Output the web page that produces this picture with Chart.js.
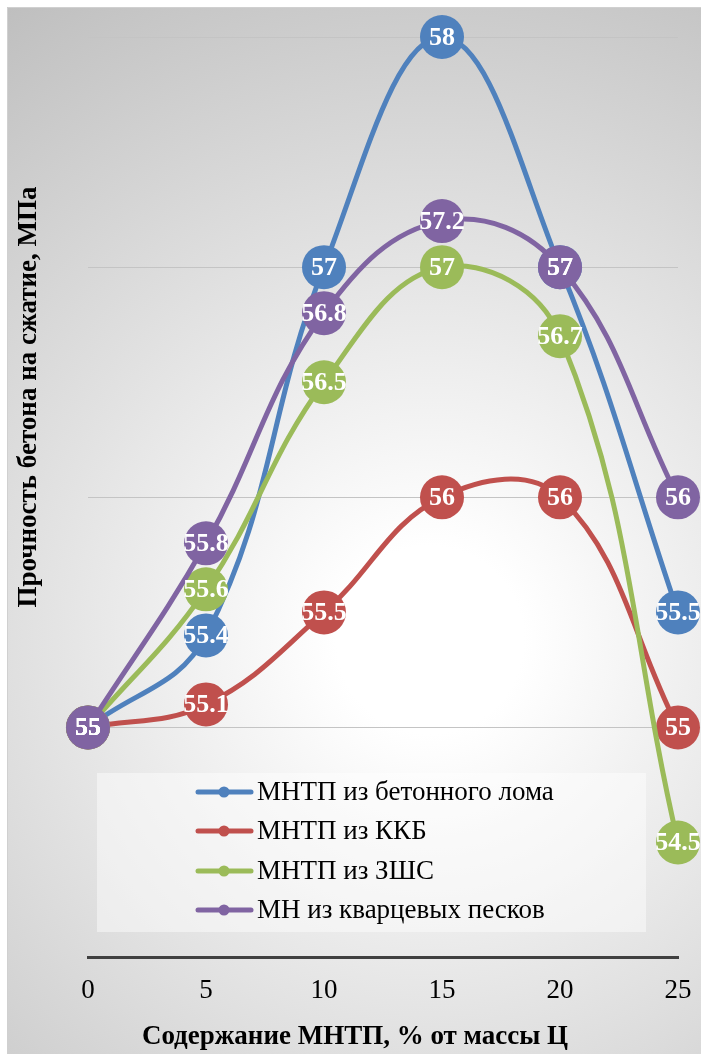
<!DOCTYPE html>
<html lang="ru">
<head>
<meta charset="utf-8">
<title>Прочность бетона</title>
<script src="https://cdn.jsdelivr.net/npm/chart.js@4"></script>
<style>
    html, body { margin: 0; padding: 0; background: #fff; }
    #strengthChart { display: block; }
</style>
</head>
<body>
<canvas id="strengthChart" width="701" height="1054"></canvas>
<script>
// Chart data
const xLabels = ['0', '5', '10', '15', '20', '25'];
const seriesNames = ['МНТП из бетонного лома', 'МНТП из ККБ', 'МНТП из ЗШС', 'МН из кварцевых песков'];
const concreteScrap = [55, 55.4, 57, 58, 57, 55.5];
const kkbValues = [55, 55.1, 55.5, 56, 56, 55];
const zshsValues = [55, 55.6, 56.5, 57, 56.7, 54.5];
const quartzSand = [55, 55.8, 56.8, 57.2, 57, 56];
const seriesColors = ['#4f81bd', '#c0504d', '#9bbb59', '#8064a2'];

const FONT = '"Liberation Serif", "Times New Roman", serif';

document.addEventListener('DOMContentLoaded', function() {
    const ctx = document.getElementById('strengthChart');

    // Background with radial gradient and frame
    const backgroundPlugin = {
        id: 'background',
        beforeDraw(chart) {
            const c = chart.ctx;
            const w = chart.width, h = chart.height;
            c.save();
            c.fillStyle = '#fff';
            c.fillRect(0, 0, w, h);
            const g = c.createRadialGradient(430, 640, 0, 430, 640, 780);
            g.addColorStop(0, '#ffffff');
            g.addColorStop(0.12, '#ffffff');
            g.addColorStop(1, '#bdbdbd');
            c.fillStyle = g;
            c.fillRect(7, 7, w - 7, h - 7);
            c.strokeStyle = '#d0d0d0';
            c.lineWidth = 1;
            c.beginPath();
            c.moveTo(7.5, h);
            c.lineTo(7.5, 7.5);
            c.lineTo(w, 7.5);
            c.stroke();
            c.restore();
        }
    };

    // White value labels inside the markers
    const valueLabels = {
        id: 'valueLabels',
        afterDatasetsDraw(chart) {
            const c = chart.ctx;
            c.save();
            c.font = 'bold 26px ' + FONT;
            c.fillStyle = '#fff';
            c.textAlign = 'center';
            c.textBaseline = 'middle';
            chart.data.datasets.forEach(function(ds, i) {
                const meta = chart.getDatasetMeta(i);
                meta.data.forEach(function(pt, j) {
                    c.fillText(String(ds.data[j]), pt.x, pt.y + 1);
                });
            });
            c.restore();
        }
    };

    // Legend inside the plot, axis titles
    const overlay = {
        id: 'overlay',
        afterDraw(chart) {
            const c = chart.ctx;
            c.save();
            c.fillStyle = 'rgba(255, 255, 255, 0.45)';
            c.fillRect(97, 773, 549, 159);

            c.font = '27px ' + FONT;
            c.textBaseline = 'middle';
            c.textAlign = 'left';
            const rows = [792, 831, 871, 910];
            chart.data.datasets.forEach(function(ds, i) {
                const y = rows[i];
                c.strokeStyle = ds.borderColor;
                c.lineWidth = 5;
                c.lineCap = 'round';
                c.beginPath();
                c.moveTo(198, y);
                c.lineTo(251, y);
                c.stroke();
                c.fillStyle = ds.borderColor;
                c.beginPath();
                c.arc(224, y, 5.5, 0, Math.PI * 2);
                c.fill();
                c.fillStyle = '#000';
                c.fillText(ds.label, 257, y + 1);
            });

            c.font = 'bold 27px ' + FONT;
            c.fillStyle = '#000';
            c.textAlign = 'center';
            c.fillText('Содержание МНТП, % от массы Ц', 355, 1037);

            c.translate(29, 397);
            c.rotate(-Math.PI / 2);
            c.fillText('Прочность бетона на сжатие, МПа', 0, 0);
            c.restore();
        }
    };

    const allSeries = [concreteScrap, kkbValues, zshsValues, quartzSand];
    const datasets = allSeries.map(function(values, i) {
        return {
            label: seriesNames[i],
            data: values,
            borderColor: seriesColors[i],
            backgroundColor: seriesColors[i],
            pointBackgroundColor: seriesColors[i],
            pointBorderWidth: 0,
            pointRadius: 22,
            pointHoverRadius: 22,
            borderWidth: 5,
            tension: 0.4,
            clip: false,
            order: 4 - i
        };
    });

    const strengthChart = new Chart(ctx, {
        type: 'line',
        data: {
            labels: xLabels,
            datasets: datasets
        },
        options: {
            responsive: false,
            animation: false,
            layout: {
                padding: { left: 88, right: 23, top: 37, bottom: 30 }
            },
            scales: {
                x: {
                    grid: { display: false, drawTicks: false },
                    border: { color: '#404040', width: 3 },
                    ticks: {
                        color: '#000',
                        padding: 17,
                        font: { family: FONT, size: 27 },
                        maxRotation: 0
                    },
                    afterFit: function(scale) {
                        // let the layout padding decide the plot edges
                        scale.paddingLeft = 0;
                        scale.paddingRight = 0;
                    }
                },
                y: {
                    min: 54,
                    max: 58,
                    ticks: { display: false, stepSize: 1 },
                    grid: {
                        drawTicks: false,
                        color: function(c) { return c.tick.value === 54 ? 'rgba(0,0,0,0)' : '#c4c4c4'; },
                        lineWidth: 1
                    },
                    border: { display: false }
                }
            },
            plugins: {
                legend: { display: false },
                tooltip: { enabled: false }
            }
        },
        plugins: [backgroundPlugin, valueLabels, overlay]
    });
});
</script>
</body>
</html>
